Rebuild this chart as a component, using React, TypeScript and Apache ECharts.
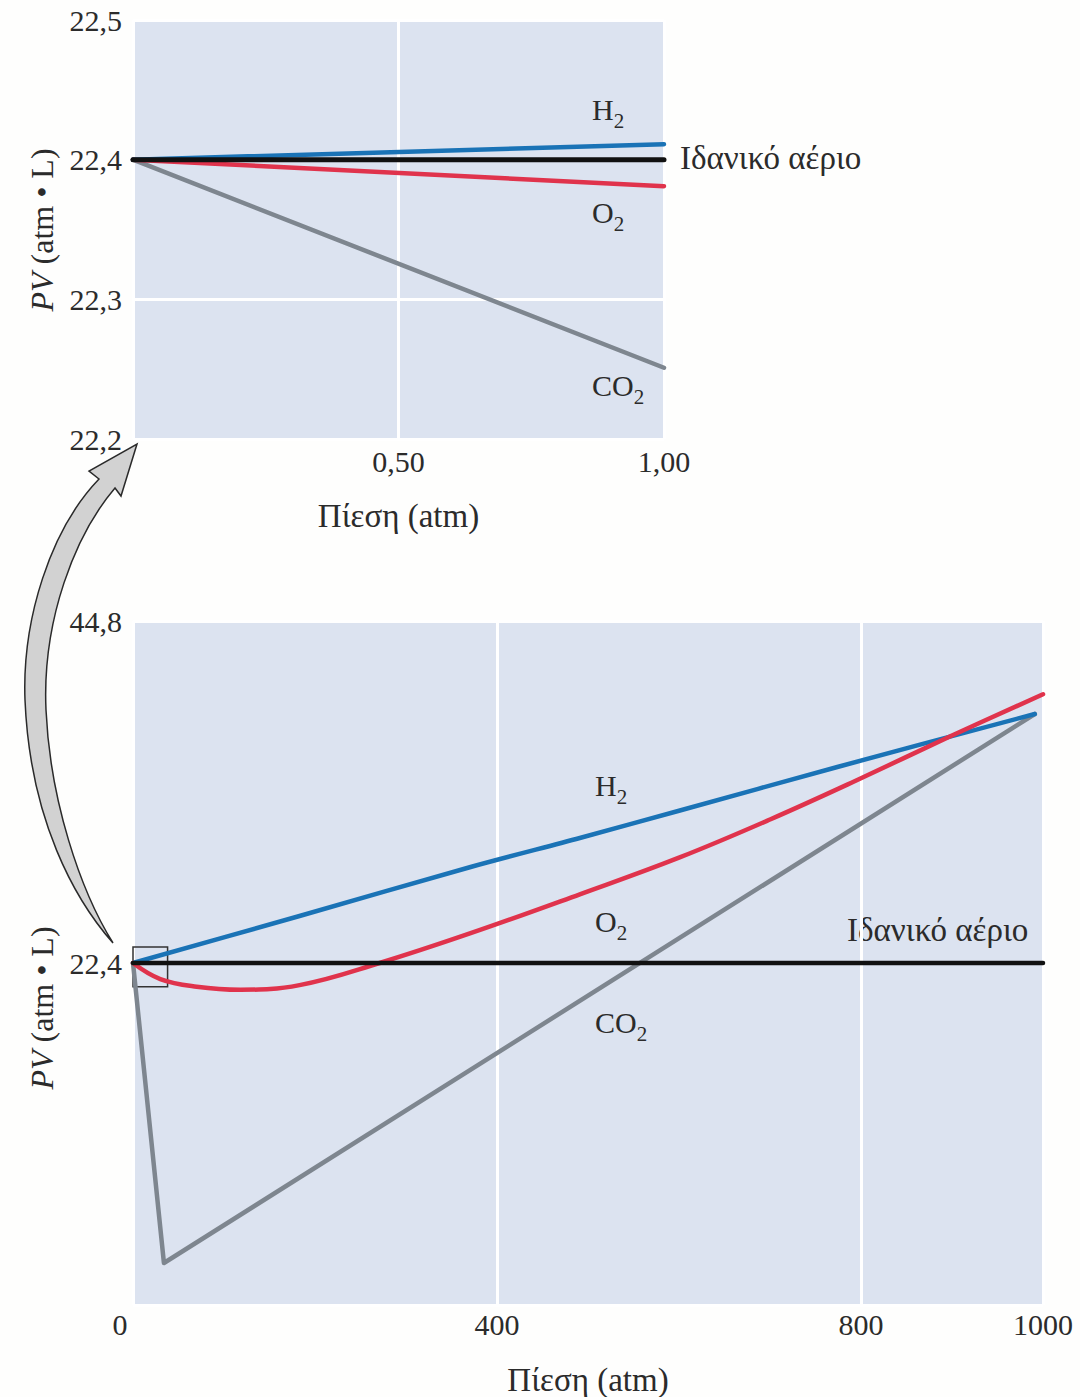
import React, { useEffect, useRef } from "react";
import * as echarts from "echarts";

// ---------- Data ----------
// Top panel (low pressure, 0 – 1 atm)
const topPressure = [0, 1.0];
const topIdeal = [22.4, 22.4];
const topH2 = [22.4, 22.411];
const topO2 = [22.4, 22.381];
const topCO2 = [22.4, 22.251];

// Bottom panel (high pressure, 0 – 1000 atm)
const botIdealX = [0, 1000];
const botIdeal = [22.4, 22.4];
const botH2X = [0, 183, 371, 491, 600, 774, 991];
const botH2 = [22.4, 25.48, 28.69, 30.59, 32.37, 35.24, 38.71];
const botO2X = [0, 30, 70, 118, 183, 271, 371, 491, 600, 700, 800, 900, 1000];
const botO2 = [22.4, 21.35, 20.85, 20.65, 20.95, 22.4, 24.35, 26.9, 29.3, 31.8, 34.5, 37.3, 40.0];
const botCO2X = [0, 34, 991];
const botCO2 = [22.4, 2.75, 38.71];

// zoom box around the origin of the bottom panel
const zoomBoxX = [0, 38];
const zoomBoxY = [20.85, 23.45];

// axis ticks
const topXTicks = { min: 0, max: 1, interval: 0.5 };
const topYTicks = { min: 22.2, max: 22.5, interval: 0.1 };
const botXTicks = { min: 0, max: 1000, interval: 400 };
const botYTicks = { min: 0, max: 44.8, interval: 22.4 };

const xName = "Πίεση (atm)";
const yName = "{i|PV} (atm • L)";
const idealLabel = "Ιδανικό αέριο";

// ---------- Styling ----------
const FONT = "Liberation Serif";
const TXT = "#2b2b2b";
const PLOT_BG = "#dce3f0";
const C_IDEAL = "#111111";
const C_H2 = "#1a73b6";
const C_O2 = "#e0334c";
const C_CO2 = "#7e868f";

const zip = (xs: number[], ys: number[]) => xs.map((x, i) => [x, ys[i]]);
const comma = (v: number, d: number) => v.toFixed(d).replace(".", ",");

const ARROW_D =
  "M 113 943 C 75 900, 30 820, 25 700 C 22 620, 50 530, 99 479 L 89 471 L 137 444 L 121 496 L 115 488 C 75 535, 42 620, 46 710 C 50 800, 80 890, 113 943 Z";

let registered = false;
function ensureShape() {
  if (registered) return;
  echarts.graphic.registerShape("zoomArrow", echarts.graphic.extendPath(ARROW_D, {}) as any);
  registered = true;
}

function chem(x: number, y: number, main: string, sub: string) {
  return {
    type: "text",
    x,
    y: y - 15,
    style: {
      text: `{m|${main}}{s|${sub}}`,
      align: "left",
      verticalAlign: "top",
      rich: {
        m: { fontSize: 30, fontFamily: FONT, fill: TXT, color: TXT, lineHeight: 30, verticalAlign: "top" },
        s: { fontSize: 21, fontFamily: FONT, fill: TXT, color: TXT, lineHeight: 54 },
      },
    },
  };
}

function plainText(x: number, y: number, text: string) {
  return {
    type: "text",
    x,
    y,
    style: { text, align: "left", verticalAlign: "middle", fontSize: 33, fontFamily: FONT, fill: TXT },
  };
}

function yTitle(x: number, y: number) {
  return {
    type: "text",
    x,
    y,
    rotation: Math.PI / 2,
    style: {
      text: yName,
      align: "center",
      verticalAlign: "middle",
      fontSize: 32,
      fontFamily: FONT,
      fill: TXT,
      rich: {
        i: { fontStyle: "italic", fontSize: 32, fontFamily: FONT, fill: TXT, color: TXT },
      },
    },
  };
}

export default function App() {
  const ref = useRef<HTMLDivElement>(null);

  useEffect(() => {
    document.body.style.margin = "0";
    if (!ref.current) return;
    ensureShape();
    const chart = echarts.init(ref.current, null, { renderer: "svg" });

    const labelStyle = { fontFamily: FONT, fontSize: 30, color: TXT };
    const nameStyle = { fontFamily: FONT, fontSize: 33, color: TXT };
    const splitLine = { show: true, lineStyle: { color: "#ffffff", width: 3 } };
    const lineSeries = (name: string, data: number[][], color: string, axis: number, width = 4.5, smooth: any = false) => ({
      type: "line",
      name,
      data,
      xAxisIndex: axis,
      yAxisIndex: axis,
      showSymbol: false,
      symbol: "none",
      smooth,
      lineStyle: { color, width, cap: "round", join: "round" },
      z: 3,
    });

    const option: any = {
      animation: false,
      backgroundColor: "#fefefd",
      grid: [
        { left: 133, top: 20, width: 531, height: 419, show: true, backgroundColor: PLOT_BG, borderWidth: 0 },
        { left: 133, top: 621, width: 910, height: 684, show: true, backgroundColor: PLOT_BG, borderWidth: 0 },
      ],
      xAxis: [
        {
          type: "value",
          gridIndex: 0,
          ...topXTicks,
          axisLine: { show: false },
          axisTick: { show: false },
          splitLine,
          axisLabel: { ...labelStyle, margin: 7, formatter: (v: number) => (v === 0 ? "" : comma(v, 2)) },
          name: xName,
          nameLocation: "middle",
          nameGap: 60,
          nameTextStyle: { ...nameStyle },
        },
        {
          type: "value",
          gridIndex: 1,
          ...botXTicks,
          axisLine: { show: false },
          axisTick: { show: false },
          splitLine,
          axisLabel: {
            ...labelStyle,
            margin: 4,
            formatter: (v: number) => (v === 0 ? "{z|0}" : String(v)),
            rich: { z: { fontFamily: FONT, fontSize: 30, color: TXT, padding: [0, 26, 0, 0] } },
          },
          name: xName,
          nameLocation: "middle",
          nameGap: 58,
          nameTextStyle: { ...nameStyle },
        },
      ],
      yAxis: [
        {
          type: "value",
          gridIndex: 0,
          ...topYTicks,
          axisLine: { show: false },
          axisTick: { show: false },
          splitLine,
          axisLabel: { ...labelStyle, margin: 11, formatter: (v: number) => comma(v, 1) },
        },
        {
          type: "value",
          gridIndex: 1,
          ...botYTicks,
          axisLine: { show: false },
          axisTick: { show: false },
          splitLine,
          axisLabel: { ...labelStyle, margin: 11, formatter: (v: number) => (v === 0 ? "" : comma(v, 1)) },
        },
      ],
      series: [
        lineSeries("CO2", zip(topPressure, topCO2), C_CO2, 0),
        lineSeries("O2", zip(topPressure, topO2), C_O2, 0),
        lineSeries("H2", zip(topPressure, topH2), C_H2, 0),
        lineSeries("Ιδανικό αέριο", zip(topPressure, topIdeal), C_IDEAL, 0, 5),
        lineSeries("CO2", zip(botCO2X, botCO2), C_CO2, 1),
        lineSeries("H2", zip(botH2X, botH2), C_H2, 1, 4.5, 0.3),
        lineSeries("O2", zip(botO2X, botO2), C_O2, 1, 4.5, 0.4),
        {
          ...lineSeries("Ιδανικό αέριο", zip(botIdealX, botIdeal), C_IDEAL, 1, 4.5),
          markArea: {
            silent: true,
            itemStyle: { color: "rgba(0,0,0,0)", borderColor: "#333", borderWidth: 1.5 },
            data: [[{ coord: [zoomBoxX[0], zoomBoxY[1]] }, { coord: [zoomBoxX[1], zoomBoxY[0]] }]],
          },
        },
      ],
      graphic: [
        {
          type: "zoomArrow",
          x: 0,
          y: 0,
          z: 10,
          style: { fill: "#d2d2d2", stroke: "#2a2a2a", lineWidth: 1.5 },
        },
        yTitle(42, 230),
        yTitle(42, 1008),
        chem(592, 109, "H", "2"),
        chem(592, 212, "O", "2"),
        chem(592, 385, "CO", "2"),
        plainText(680, 158, idealLabel),
        chem(595, 785, "H", "2"),
        chem(595, 921, "O", "2"),
        chem(595, 1022, "CO", "2"),
        plainText(847, 930, idealLabel),
      ],
    };

    chart.setOption(option);
    return () => chart.dispose();
  }, []);

  return <div ref={ref} style={{ width: 1080, height: 1397 }} />;
}
